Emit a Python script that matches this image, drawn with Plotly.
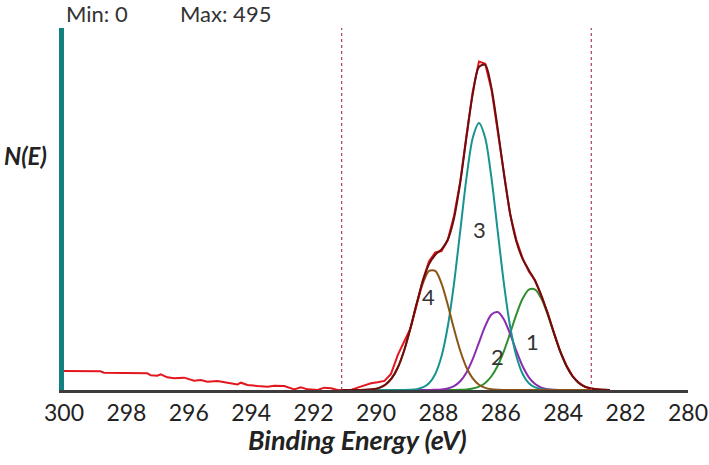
import plotly.graph_objects as go

# Binding energy grid (eV) for fitted curves
energy = [291.1, 290.9, 290.7, 290.5, 290.3, 290.1, 289.9, 289.7, 289.5, 289.3,
          289.1, 288.9, 288.7, 288.5, 288.3, 288.1, 287.9, 287.7, 287.5, 287.3,
          287.1, 286.9, 286.7, 286.5, 286.3, 286.1, 285.9, 285.7, 285.5, 285.3,
          285.1, 284.9, 284.7, 284.5, 284.3, 284.1, 283.9, 283.7, 283.5, 283.3,
          283.1, 282.9, 282.7, 282.5]

peak1 = [0, 0, 0, 0, 0, 0, 0, 0, 0, 0,
         0, 0, 0, 0, 0, 0, 0, 0.03, 0.09, 0.27,
         0.75, 1.94, 4.55, 9.7, 18.8, 33.2, 53.3, 77.8, 103.4, 125.0,
         137.4, 137.4, 125.0, 103.4, 77.8, 53.3, 33.2, 18.8, 9.7, 4.55,
         1.94, 0.75, 0.27, 0.09]

peak2 = [0, 0, 0, 0, 0, 0, 0, 0, 0, 0,
         0, 0, 0, 0, 0.05, 0.2, 0.68, 2.02, 5.26, 12.0,
         24.1, 42.2, 64.9, 87.4, 103.1, 106.6, 96.5, 76.6, 53.2, 32.4,
         17.3, 8.09, 3.31, 1.19, 0.37, 0.1, 0.03, 0, 0, 0,
         0, 0, 0, 0]

peak3 = [0, 0, 0, 0, 0, 0, 0, 0, 0, 0.02,
         0.09, 0.35, 1.17, 3.47, 9.24, 21.9, 46.1, 86.8, 145.6, 217.6,
         290.1, 344.6, 365.0, 344.6, 290.1, 217.6, 145.6, 86.8, 46.1, 21.9,
         9.24, 3.47, 1.17, 0.35, 0.09, 0.02, 0, 0, 0, 0,
         0, 0, 0, 0]

peak4 = [0, 0, 0.03, 0.11, 0.36, 1.1, 2.98, 7.24, 15.8, 30.8,
         53.6, 83.6, 116.6, 145.6, 162.8, 162.8, 145.6, 116.6, 83.6, 53.6,
         30.8, 15.8, 7.24, 2.98, 1.1, 0.36, 0.11, 0.03, 0, 0,
         0, 0, 0, 0, 0, 0, 0, 0, 0, 0,
         0, 0, 0, 0]

envelope = [0, 0, 0.03, 0.11, 0.36, 1.1, 2.98, 7.24, 15.8, 30.8,
            53.7, 84.0, 117.8, 149.1, 172.1, 184.9, 192.4, 205.5, 234.6, 283.5,
            345.8, 404.5, 441.7, 444.7, 413.1, 357.8, 295.5, 241.2, 202.7, 179.3,
            163.9, 149.0, 129.5, 104.9, 78.3, 53.4, 33.2, 18.8, 9.7, 4.55,
            1.94, 0.75, 0.27, 0.09]

# Measured spectrum (raw counts)
raw_energy = [300.0, 299.5, 299.0, 298.83, 298.72, 298.2, 297.6, 297.33, 297.22, 297.01,
              296.9, 296.69, 296.47, 296.15, 295.83, 295.62, 295.4, 295.08, 294.76, 294.44,
              294.33, 294.12, 293.8, 293.48, 293.26, 292.94, 292.62, 292.41, 292.19, 291.87,
              291.66, 291.44, 291.23, 291.01, 290.8, 290.59, 290.37, 290.16, 289.95, 289.73,
              289.52, 289.3, 289.1, 288.9, 288.7, 288.5, 288.3, 288.1, 287.9, 287.7,
              287.5, 287.3, 287.1, 286.9, 286.7, 286.5, 286.3, 286.1, 285.9, 285.7,
              285.5, 285.3, 285.1, 284.9, 284.7, 284.5, 284.3, 284.1, 283.9, 283.7,
              283.5, 283.3, 283.1, 282.9, 282.75]
raw_counts = [26.0, 26.0, 25.8, 25.5, 23.7, 23.5, 23.0, 22.8, 20.0, 19.6,
              21.4, 17.3, 16.0, 16.9, 12.8, 13.7, 11.4, 12.3, 10.0, 7.7,
              10.0, 6.8, 5.5, 4.6, 5.9, 5.5, 0.9, 3.6, 0.9, 0.0,
              3.2, 2.3, 0.0, 0.0, 0.0, 3.2, 5.9, 9.1, 10.5, 12.5,
              22.0, 48.0, 66.0, 84.0, 116.0, 150.0, 176.0, 188.0, 190.0, 205.0,
              238.0, 285.0, 348.0, 408.0, 449.0, 446.0, 411.0, 356.0, 297.0, 240.0,
              205.0, 180.0, 162.0, 150.0, 128.0, 106.0, 79.0, 53.0, 34.0, 19.0,
              10.0, 4.0, 2.0, 1.5, 0.5]

tick_values = [300, 298, 296, 294, 292, 290, 288, 286, 284, 282, 280]
tick_labels = ["300", "298", "296", "294", "292", "290", "288", "286", "284", "282", "280"]

region_bounds = [291.1, 283.1]

peak_labels = ["1", "2", "3", "4"]
peak_label_x = [284.99, 286.12, 286.69, 288.33]
peak_label_y = [67, 46, 220, 128]

y_min, y_max = 0, 495

FONT = "Lato"

fig = go.Figure()

comp_styles = [
    (peak1, "#2f8f2f"),
    (peak2, "#8a2bb0"),
    (peak3, "#17948f"),
    (peak4, "#8b5516"),
]
for vals, col in comp_styles:
    fig.add_trace(go.Scatter(x=energy, y=vals, mode="lines",
                             line=dict(color=col, width=2, shape="spline", smoothing=0.8),
                             hoverinfo="skip", showlegend=False))

fig.add_trace(go.Scatter(x=raw_energy, y=raw_counts, mode="lines",
                         line=dict(color="#e3161e", width=2),
                         hoverinfo="skip", showlegend=False))
fig.add_trace(go.Scatter(x=energy, y=envelope, mode="lines",
                         line=dict(color="#6e0d0d", width=2, shape="spline", smoothing=0.8),
                         hoverinfo="skip", showlegend=False))

for xb in region_bounds:
    fig.add_shape(type="line", x0=xb, x1=xb, y0=0, y1=1, xref="x", yref="paper",
                  line=dict(color="#a8405e", width=1.2, dash="dot"))

for t, xv, yv in zip(peak_labels, peak_label_x, peak_label_y):
    fig.add_annotation(x=xv, y=yv, text=t, showarrow=False,
                       font=dict(family=FONT, size=22, color="#333333"))

fig.add_annotation(xref="paper", yref="paper", x=0.0, y=1.0387, xanchor="left", yanchor="middle",
                   text="Min: " + str(y_min), showarrow=False,
                   font=dict(family=FONT, size=22, color="#333333"))
fig.add_annotation(xref="paper", yref="paper", x=0.183, y=1.0387, xanchor="left", yanchor="middle",
                   text="Max: " + str(y_max), showarrow=False,
                   font=dict(family=FONT, size=22, color="#333333"))
fig.add_annotation(xref="paper", yref="paper", x=-0.0625, y=0.649, xanchor="center", yanchor="middle",
                   text="<b><i>N(E)</i></b>", showarrow=False,
                   font=dict(family=FONT, size=24, color="#222222"))
fig.add_annotation(xref="paper", yref="paper", x=0.47, y=-0.138, xanchor="center", yanchor="middle",
                   text="<b><i>Binding Energy (eV)</i></b>", showarrow=False,
                   font=dict(family=FONT, size=27, color="#222222"))

fig.update_layout(
    width=709, height=465,
    autosize=False,
    margin=dict(l=64, r=21, t=28, b=75),
    paper_bgcolor="white", plot_bgcolor="white",
    showlegend=False,
    xaxis=dict(range=[300, 280], tickvals=tick_values, ticktext=tick_labels,
               showgrid=False, zeroline=False, showline=True, automargin=False,
               linecolor="#3c3c3c", linewidth=3, ticks="",
               tickfont=dict(family=FONT, size=23, color="#222222")),
    yaxis=dict(range=[y_min, y_max], showticklabels=False, showgrid=False, zeroline=False,
               showline=True, automargin=False, linecolor="#128080", linewidth=5, ticks=""),
)

fig.write_html("out.html",
               config={"responsive": False, "displayModeBar": False},
               post_script="document.body.style.margin='0';document.body.style.overflow='hidden';")
